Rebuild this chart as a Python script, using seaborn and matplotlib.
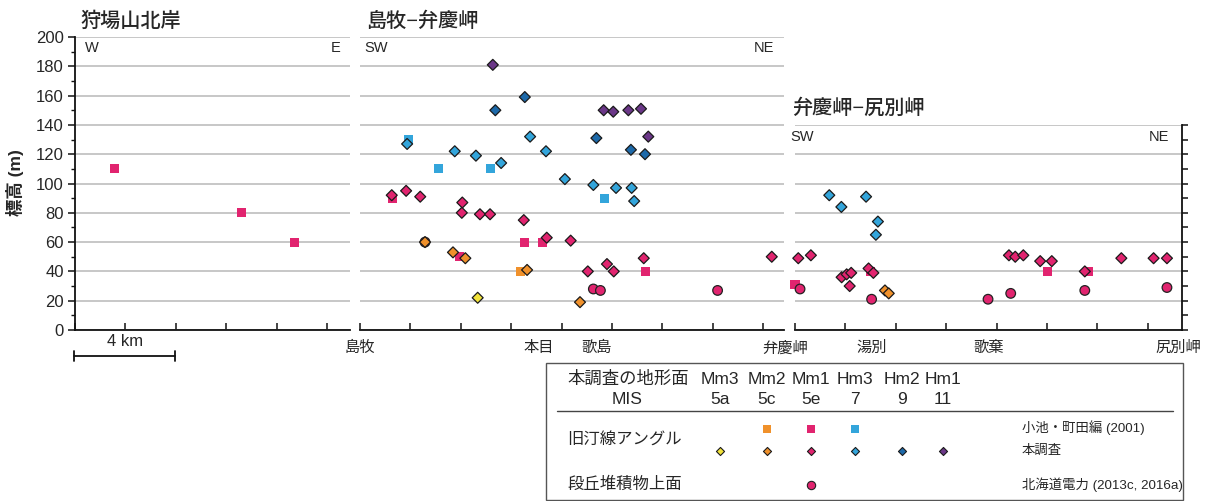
import matplotlib
matplotlib.use("Agg")
import matplotlib.pyplot as plt
from matplotlib.ticker import MultipleLocator
import pandas as pd
import seaborn as sns

# ---------------------------------------------------------------- data
SURFACES = ["Mm3", "Mm2", "Mm1", "Hm3", "Hm2", "Hm1"]
MIS_STAGES = ["5a", "5c", "5e", "7", "9", "11"]

# 狩場山北岸 (distance along coast in km, elevation in m)
KARIBA_SQ_KM = [1.55, 6.61, 8.73]
KARIBA_SQ_ELEV = [110, 80, 60]
KARIBA_SQ_SURF = ["Mm1", "Mm1", "Mm1"]

# 島牧−弁慶岬
SHIMA_SQ_KM = [1.94, 3.10, 5.19, 9.72, 1.30, 3.93, 6.51, 7.25, 11.32, 6.38]
SHIMA_SQ_ELEV = [130, 110, 110, 90, 90, 50, 60, 60, 40, 40]
SHIMA_SQ_SURF = ["Hm3", "Hm3", "Hm3", "Hm3", "Mm1", "Mm1", "Mm1", "Mm1", "Mm1", "Mm2"]

SHIMA_DM_KM = [5.27, 9.67, 10.05, 10.65, 11.15, 11.44,
               6.54, 5.37, 9.38, 10.75, 11.31,
               1.87, 6.75, 3.76, 7.38, 4.60, 5.60, 8.13, 9.26, 10.16, 10.78, 10.88,
               1.26, 1.83, 2.39, 4.06, 4.04, 4.76, 5.16, 6.50, 7.41, 8.36, 9.80, 9.04,
               10.07, 11.26, 16.34,
               2.58, 3.69, 4.18, 6.63, 8.73,
               4.67]
SHIMA_DM_ELEV = [181, 150, 149, 150, 151, 132,
                 159, 150, 131, 123, 120,
                 127, 132, 122, 122, 119, 114, 103, 99, 97, 97, 88,
                 92, 95, 91, 87, 80, 79, 79, 75, 63, 61, 45, 40,
                 40, 49, 50,
                 60, 53, 49, 41, 19,
                 22]
SHIMA_DM_SURF = ["Hm1"] * 6 + ["Hm2"] * 5 + ["Hm3"] * 11 + ["Mm1"] * 15 + ["Mm2"] * 5 + ["Mm3"]

SHIMA_CI_KM = [2.58, 9.26, 9.54, 14.19]
SHIMA_CI_ELEV = [60, 28, 27, 27]
SHIMA_CI_SURF = ["Mm1", "Mm1", "Mm1", "Mm1"]

# 弁慶岬−尻別岬
BENKEI_SQ_KM = [0.0, 2.98, 10.01, 11.64]
BENKEI_SQ_ELEV = [31, 40, 40, 40]
BENKEI_SQ_SURF = ["Mm1", "Mm1", "Mm1", "Mm1"]

BENKEI_DM_KM = [1.36, 1.84, 2.82, 3.29, 3.21,
                0.13, 0.63, 1.85, 2.05, 2.23, 2.17, 2.92, 3.11, 8.49, 8.74, 9.06,
                9.73, 10.19, 11.50, 12.95, 14.23, 14.76,
                3.57, 3.72]
BENKEI_DM_ELEV = [92, 84, 91, 74, 65,
                  49, 51, 36, 38, 39, 30, 42, 39, 51, 50, 51,
                  47, 47, 40, 49, 49, 49,
                  27, 25]
BENKEI_DM_SURF = ["Hm3"] * 5 + ["Mm1"] * 17 + ["Mm2"] * 2

BENKEI_CI_KM = [0.20, 3.04, 7.66, 8.56, 11.50, 14.76]
BENKEI_CI_ELEV = [28, 21, 21, 25, 27, 29]
BENKEI_CI_SURF = ["Mm1"] * 6

COLORS = {"Mm3": "#f2e33a", "Mm2": "#f0912b", "Mm1": "#e1246f",
          "Hm3": "#33a5db", "Hm2": "#1d69a9", "Hm1": "#6b3788"}

# ---------------------------------------------------------------- style
sns.set_style("white")
plt.rcParams["font.family"] = ["Liberation Sans", "Noto Sans CJK JP"]
plt.rcParams["axes.unicode_minus"] = False

W, H = 1210, 501
PX_PER_KM = 25.2
PX_PER_M = 1.465
BASE = 330  # pixel row of 0 m

fig = plt.figure(figsize=(W / 100, H / 100), dpi=100)


def rect(left, right, top, bottom):
    return [left / W, 1 - bottom / H, (right - left) / W, (bottom - top) / H]


def frame(df_list):
    km, elev, surf = df_list
    return pd.DataFrame({"km": km, "elev": elev, "surface": surf})


MARKERS = {
    "sq": dict(marker="s", s=42, edgecolor="none", linewidth=0, zorder=3),
    "ci": dict(marker="o", s=48, edgecolor="#222222", linewidth=0.9, zorder=4),
    "dm": dict(marker="D", s=31, edgecolor="#1a1a1a", linewidth=0.9, zorder=5),
}


def draw_points(ax, groups):
    for kind, data in groups:
        sns.scatterplot(data=frame(data), x="km", y="elev", hue="surface",
                        palette=COLORS, legend=False, ax=ax, clip_on=False,
                        **MARKERS[kind])


def style_axis(ax, top, left_axis=False, right_axis=False):
    ax.set_ylim(0, top)
    ax.set_facecolor("none")
    ax.yaxis.set_major_locator(MultipleLocator(20))
    ax.yaxis.set_minor_locator(MultipleLocator(10))
    ax.xaxis.set_major_locator(MultipleLocator(2))
    ax.grid(axis="y", color="#bdbdbd", linewidth=1.2, zorder=0)
    ax.grid(axis="x", visible=False)
    ax.set_axisbelow(True)
    for side in ["top", "left", "right"]:
        ax.spines[side].set_visible(False)
    ax.spines["bottom"].set_color("#111111")
    ax.spines["bottom"].set_linewidth(1.3)
    ax.tick_params(axis="x", direction="in", length=5, width=1.1, color="#111111",
                   bottom=True, labelbottom=False)
    ax.set_xlabel("")
    ax.set_ylabel("")
    if left_axis:
        ax.spines["left"].set_visible(True)
        ax.spines["left"].set_color("#111111")
        ax.spines["left"].set_linewidth(1.3)
        ax.tick_params(axis="y", which="major", direction="out", length=5, width=1.1,
                       left=True, labelleft=True, labelsize=12, pad=3, color="#111111")
        ax.tick_params(axis="y", which="minor", direction="out", length=3, width=1.0,
                       left=True, color="#111111")
    elif right_axis:
        ax.spines["right"].set_visible(True)
        ax.spines["right"].set_color("#111111")
        ax.spines["right"].set_linewidth(1.3)
        ax.yaxis.set_ticks_position("right")
        ax.tick_params(axis="y", which="both", direction="out", length=4, width=1.1,
                       right=True, left=False, labelright=False, labelleft=False,
                       color="#111111")
    else:
        ax.tick_params(axis="y", which="both", left=False, right=False,
                       labelleft=False, labelright=False)


# ---------------------------------------------------------------- panels
ax1 = fig.add_axes(rect(75, 350, BASE - 200 * PX_PER_M, BASE))
ax2 = fig.add_axes(rect(360, 784, BASE - 200 * PX_PER_M, BASE))
ax3 = fig.add_axes(rect(795, 1181.5, BASE - 140 * PX_PER_M, BASE))

draw_points(ax1, [("sq", (KARIBA_SQ_KM, KARIBA_SQ_ELEV, KARIBA_SQ_SURF))])
draw_points(ax2, [("sq", (SHIMA_SQ_KM, SHIMA_SQ_ELEV, SHIMA_SQ_SURF)),
                  ("ci", (SHIMA_CI_KM, SHIMA_CI_ELEV, SHIMA_CI_SURF)),
                  ("dm", (SHIMA_DM_KM, SHIMA_DM_ELEV, SHIMA_DM_SURF))])
draw_points(ax3, [("sq", (BENKEI_SQ_KM, BENKEI_SQ_ELEV, BENKEI_SQ_SURF)),
                  ("ci", (BENKEI_CI_KM, BENKEI_CI_ELEV, BENKEI_CI_SURF)),
                  ("dm", (BENKEI_DM_KM, BENKEI_DM_ELEV, BENKEI_DM_SURF))])

ax1.set_xlim(0, 275 / PX_PER_KM)
ax2.set_xlim(0, 424 / PX_PER_KM)
ax3.set_xlim(0, 386.5 / PX_PER_KM)
style_axis(ax1, 200, left_axis=True)
style_axis(ax2, 200)
style_axis(ax3, 140, right_axis=True)
ax1.set_yticks(range(0, 201, 20))

# place names along each profile
for ax, km, name in [(ax2, 0.0, "島牧"), (ax2, 7.1, "本目"), (ax2, 9.4, "歌島"),
                     (ax2, 16.87, "弁慶岬"), (ax3, 3.06, "湯別"), (ax3, 7.7, "歌棄"),
                     (ax3, 15.2, "尻別岬")]:
    ax.text(km, -12.5, name, ha="center", va="center", fontsize=11, clip_on=False)

# ---------------------------------------------------------------- overlay (pixel coordinates)
ov = fig.add_axes([0, 0, 1, 1])
ov.set_xlim(0, W)
ov.set_ylim(H, 0)
ov.axis("off")
ov.patch.set_alpha(0)

title_kw = dict(fontsize=14.5, va="center", ha="left", fontweight="medium")
ov.text(80, 21, "狩場山北岸", **title_kw)
ov.text(366, 21, "島牧−弁慶岬", **title_kw)
ov.text(792, 108, "弁慶岬−尻別岬", **title_kw)

dir_kw = dict(fontsize=10.5, va="center")
ov.text(85, 48, "W", ha="left", **dir_kw)
ov.text(341, 48, "E", ha="right", **dir_kw)
ov.text(364, 48, "SW", ha="left", **dir_kw)
ov.text(774, 48, "NE", ha="right", **dir_kw)
ov.text(790, 137, "SW", ha="left", **dir_kw)
ov.text(1169, 137, "NE", ha="right", **dir_kw)

ov.text(15, 183, "標高 (m)", rotation=90, ha="center", va="center",
        fontsize=12.5, fontweight="bold")

# scale bar
ov.plot([74, 175], [356, 356], color="#111111", lw=1.3)
ov.plot([74, 74], [351, 361], color="#111111", lw=1.3)
ov.plot([175, 175], [351, 361], color="#111111", lw=1.3)
ov.text(125, 342, "4 km", ha="center", va="center", fontsize=12)

# legend block
ov.add_patch(plt.Rectangle((546, 363), 637, 137, fill=False, edgecolor="#555555", lw=1.0))
head_kw = dict(fontsize=12.5, va="center")
side_kw = dict(fontsize=11.8, va="center", ha="left")
ref_kw = dict(fontsize=9.6, va="center", ha="left")
col_x = [720, 767, 811, 855, 902, 943]
ov.text(567, 379, "本調査の地形面", ha="left", **head_kw)
ov.text(627, 400, "MIS", ha="center", **head_kw)
for x, surf, mis in zip(col_x, SURFACES, MIS_STAGES):
    ov.text(x, 379, surf, ha="center", **head_kw)
    ov.text(x, 400, mis, ha="center", **head_kw)
ov.plot([557, 1173], [410.5, 410.5], color="#444444", lw=1.0)
ov.text(567, 440, "旧汀線アングル", **side_kw)
ov.text(567, 484, "段丘堆積物上面", **side_kw)
ov.text(1022, 428, "小池・町田編 (2001)", **ref_kw)
ov.text(1022, 451, "本調査", **ref_kw)
ov.text(1022, 485, "北海道電力 (2013c, 2016a)", **ref_kw)

for x, surf in zip(col_x, SURFACES):
    if surf in ("Mm2", "Mm1", "Hm3"):
        ov.scatter([x], [429], marker="s", s=28, color=COLORS[surf], edgecolor="none")
    ov.scatter([x], [451], marker="D", s=17, color=COLORS[surf],
               edgecolor="#1a1a1a", linewidth=0.8)
    if surf == "Mm1":
        ov.scatter([x], [485], marker="o", s=36, color=COLORS[surf],
                   edgecolor="#222222", linewidth=0.8)

fig.savefig("out.png", dpi=100)
